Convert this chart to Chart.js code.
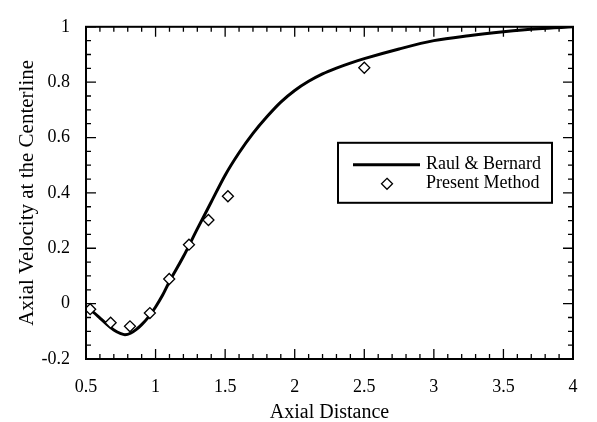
<!DOCTYPE html>
<html><head><meta charset="utf-8">
<script src="https://cdn.jsdelivr.net/npm/chart.js@4"></script>
<style>html,body{margin:0;padding:0;background:#fff}</style>
</head><body>
<canvas id="c" width="597" height="422"></canvas>
<script>
const raulX = [0.5,0.55,0.6,0.65,0.7,0.75,0.78,0.82,0.86,0.9,0.95,1.0,1.05,1.1,1.2,1.3,1.4,1.5,1.6,1.7,1.8,1.9,2.0,2.1,2.2,2.3,2.4,2.5,2.75,3.0,3.25,3.5,3.75,4.0];
const raulY = [-0.012,-0.03,-0.052,-0.075,-0.095,-0.108,-0.112,-0.107,-0.094,-0.076,-0.048,-0.012,0.03,0.08,0.17,0.27,0.367,0.464,0.545,0.615,0.675,0.728,0.77,0.803,0.83,0.851,0.869,0.885,0.92,0.95,0.968,0.982,0.993,1.0];
const presentX = [0.53,0.677,0.816,0.959,1.098,1.24,1.38,1.52,2.5];
const presentY = [-0.02,-0.069,-0.082,-0.034,0.089,0.213,0.302,0.388,0.852];
const xTicks = [0.5,1,1.5,2,2.5,3,3.5,4];
const xTickLabels = ['0.5','1','1.5','2','2.5','3','3.5','4'];
const yTicks = [-0.2,0,0.2,0.4,0.6,0.8,1];
const yTickLabels = ['-0.2','0','0.2','0.4','0.6','0.8','1'];
const seriesNames = ['Raul & Bernard','Present Method'];

const FONT = "'Liberation Serif','Times New Roman',serif";

const framePlugin = {
  id: 'frame',
  beforeDraw(chart) {
    const ctx = chart.ctx;
    ctx.save(); ctx.fillStyle = '#fff'; ctx.fillRect(0,0,chart.width,chart.height); ctx.restore();
  },
  afterDatasetsDraw(chart) {
    const ctx = chart.ctx, a = chart.chartArea, xs = chart.scales.x, ys = chart.scales.y;
    ctx.save();
    ctx.strokeStyle = '#000';
    ctx.lineWidth = 1.3;
    // x ticks (bottom and top)
    for (let i = 0; i <= 35; i++) {
      const v = 0.5 + i * 0.1;
      const px = xs.getPixelForValue(v);
      const len = (i % 5 === 0) ? 10 : 5;
      ctx.beginPath();
      ctx.moveTo(px, a.bottom); ctx.lineTo(px, a.bottom - len);
      ctx.moveTo(px, a.top); ctx.lineTo(px, a.top + len);
      ctx.stroke();
    }
    for (let i = 0; i <= 24; i++) {
      const v = -0.2 + i * 0.05;
      const py = ys.getPixelForValue(v);
      const len = (i % 4 === 0) ? 10 : 5;
      ctx.beginPath();
      ctx.moveTo(a.left, py); ctx.lineTo(a.left + len, py);
      ctx.moveTo(a.right, py); ctx.lineTo(a.right - len, py);
      ctx.stroke();
    }
    ctx.lineWidth = 2;
    ctx.strokeRect(a.left, a.top, a.right - a.left, a.bottom - a.top);

    // legend box
    const L = a.right - 235, T = a.top + 116, W = 214, H = 60;
    ctx.fillStyle = '#fff';
    ctx.fillRect(L, T, W, H);
    ctx.lineWidth = 2;
    ctx.strokeRect(L, T, W, H);
    ctx.lineWidth = 3;
    ctx.beginPath(); ctx.moveTo(L + 15, T + 22); ctx.lineTo(L + 82, T + 22); ctx.stroke();
    // diamond
    const dx = L + 49, dy = T + 41, r = 5.5;
    ctx.lineWidth = 1.3;
    ctx.beginPath();
    ctx.moveTo(dx, dy - r); ctx.lineTo(dx + r, dy); ctx.lineTo(dx, dy + r); ctx.lineTo(dx - r, dy); ctx.closePath();
    ctx.fillStyle = '#fff'; ctx.fill(); ctx.stroke();
    ctx.fillStyle = '#000';
    ctx.font = "18px " + FONT;
    ctx.textAlign = 'left'; ctx.textBaseline = 'middle';
    ctx.fillText(seriesNames[0], L + 88, T + 21);
    ctx.fillText(seriesNames[1], L + 88, T + 40);
    ctx.restore();
  }
};

new Chart(document.getElementById('c'), {
  type: 'scatter',
  data: {
    datasets: [
      {
        label: seriesNames[0],
        type: 'line',
        data: raulX.map((x, i) => ({x: x, y: raulY[i]})),
        borderColor: '#000',
        borderWidth: 3,
        pointRadius: 0,
        fill: false,
        cubicInterpolationMode: 'monotone',
        order: 2
      },
      {
        label: seriesNames[1],
        data: presentX.map((x, i) => ({x: x, y: presentY[i]})),
        pointStyle: 'rectRot',
        pointRadius: 5.5,
        pointBorderWidth: 1.3,
        borderColor: '#000',
        backgroundColor: '#fff',
        order: 1
      }
    ]
  },
  options: {
    responsive: false,
    animation: false,
    layout: { padding: { top: 11, right: 24, left: 0, bottom: 0 } },
    plugins: { legend: { display: false }, tooltip: { enabled: false } },
    scales: {
      x: {
        type: 'linear', min: 0.5, max: 4,
        afterBuildTicks: s => { s.ticks = xTicks.map(v => ({value: v})); },
        afterFit: s => { s.height = 63; },
        grid: { display: false, drawTicks: false },
        border: { display: false },
        ticks: {
          color: '#000', padding: 17, maxRotation: 0, autoSkip: false,
          font: { family: FONT, size: 18 },
          callback: (v, i) => xTickLabels[i]
        },
        title: { display: true, text: 'Axial Distance', color: '#000',
          font: { family: FONT, size: 20, lineHeight: 0.8 }, padding: { top: 0, bottom: 1 } }
      },
      y: {
        type: 'linear', min: -0.2, max: 1,
        afterBuildTicks: s => { s.ticks = yTicks.map(v => ({value: v})); },
        afterFit: s => { s.width = 86; },
        grid: { display: false, drawTicks: false },
        border: { display: false },
        ticks: {
          color: '#000', padding: 16, autoSkip: false,
          font: { family: FONT, size: 18 },
          callback: (v, i) => yTickLabels[i]
        },
        title: { display: true, text: 'Axial Velocity at the Centerline', color: '#000',
          font: { family: FONT, size: 21, lineHeight: 0.8 }, padding: { top: 19, bottom: 0 } }
      }
    }
  },
  plugins: [framePlugin]
});
</script>
</body></html>
